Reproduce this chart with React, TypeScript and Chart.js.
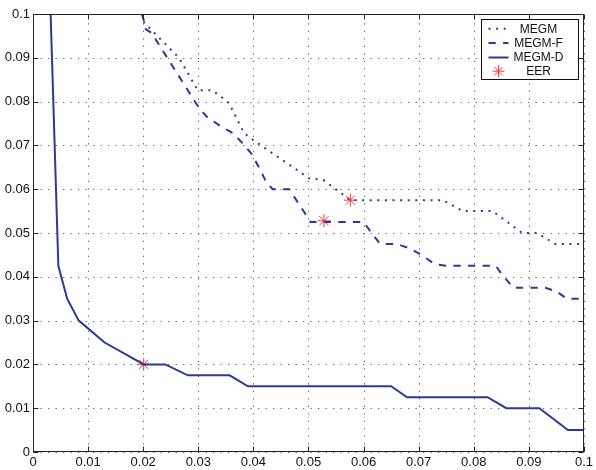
import React, { useEffect, useRef } from "react";
import { Chart, registerables } from "chart.js";

Chart.register(...registerables);

const megmX = [0.0198, 0.0202, 0.0246, 0.0265, 0.0299, 0.0325, 0.0348, 0.0356, 0.0383, 0.0401, 0.0501, 0.0527, 0.0576, 0.0744, 0.078, 0.0834, 0.0888, 0.0915, 0.0948, 0.1];
const megmY = [0.1, 0.098, 0.0924, 0.09, 0.0826, 0.0826, 0.0805, 0.0796, 0.0728, 0.0711, 0.0625, 0.0621, 0.0575, 0.0575, 0.055, 0.055, 0.05, 0.05, 0.0475, 0.0475];

const megmFX = [0.0198, 0.0205, 0.0215, 0.03, 0.0315, 0.0339, 0.0363, 0.0378, 0.0396, 0.0411, 0.0423, 0.0435, 0.0465, 0.0504, 0.06, 0.0615, 0.063, 0.066, 0.0684, 0.0705, 0.0729, 0.0749, 0.084, 0.0852, 0.0872, 0.093, 0.0951, 0.0969, 0.1];
const megmFY = [0.1, 0.0965, 0.0957, 0.0788, 0.0766, 0.0745, 0.0728, 0.0708, 0.0682, 0.0648, 0.0617, 0.06, 0.06, 0.0525, 0.0525, 0.0499, 0.0475, 0.0475, 0.0465, 0.045, 0.0429, 0.0425, 0.0425, 0.0404, 0.0375, 0.0375, 0.0366, 0.035, 0.035];

const megmDX = [0.0032, 0.0046, 0.0062, 0.0083, 0.013, 0.0201, 0.024, 0.0281, 0.0357, 0.039, 0.065, 0.0679, 0.0825, 0.0859, 0.0919, 0.0971, 0.1];
const megmDY = [0.1, 0.0425, 0.035, 0.03, 0.025, 0.02, 0.02, 0.0175, 0.0175, 0.015, 0.015, 0.0125, 0.0125, 0.01, 0.01, 0.005, 0.005];

const eerX = [0.0201, 0.0528, 0.0576];
const eerY = [0.02, 0.0528, 0.0575];

const seriesNames = ["MEGM", "MEGM-F", "MEGM-D", "EER"];
const axisMin = 0;
const axisMax = 0.1;
const axisStep = 0.01;

const BLUE = "#2c3a97";
const RED = "#ff3838";
const FONT = "'Liberation Sans', Arial, Helvetica, sans-serif";
const DOT_DASH = [2, 5.6];
const DASH_DASH = [7.3, 7.3];

const toPts = (xs: number[], ys: number[]) => xs.map((x, i) => ({ x, y: ys[i] }));

function drawAsterisk(ctx: CanvasRenderingContext2D, x: number, y: number, r: number) {
  ctx.save();
  ctx.strokeStyle = RED;
  ctx.lineWidth = 1;
  for (let k = 0; k < 4; k++) {
    const a = (k * Math.PI) / 4;
    ctx.beginPath();
    ctx.moveTo(x - r * Math.cos(a), y - r * Math.sin(a));
    ctx.lineTo(x + r * Math.cos(a), y + r * Math.sin(a));
    ctx.stroke();
  }
  ctx.restore();
}

const framePlugin = {
  id: "frame",
  beforeDatasetsDraw(chart: any) {
    const { ctx, chartArea: a, scales } = chart;
    ctx.save();
    ctx.strokeStyle = "rgba(0,0,0,0.6)";
    ctx.lineWidth = 1;
    ctx.setLineDash([1.3, 6.2]);
    scales.x.ticks.forEach((t: any) => {
      const px = Math.round(scales.x.getPixelForValue(t.value)) + 0.5;
      ctx.beginPath();
      ctx.moveTo(px, a.bottom);
      ctx.lineTo(px, a.top);
      ctx.stroke();
    });
    scales.y.ticks.forEach((t: any) => {
      const py = Math.round(scales.y.getPixelForValue(t.value)) + 0.5;
      ctx.beginPath();
      ctx.moveTo(a.left, py);
      ctx.lineTo(a.right, py);
      ctx.stroke();
    });
    ctx.restore();
  },
  afterDraw(chart: any) {
    const { ctx, chartArea: a, scales } = chart;
    ctx.save();
    ctx.strokeStyle = "#222";
    ctx.lineWidth = 1;
    ctx.setLineDash([]);
    const L = Math.round(a.left) + 0.5;
    const R = Math.round(a.right) - 0.5;
    const T = Math.round(a.top) + 0.5;
    const B = Math.round(a.bottom) - 0.5;
    ctx.strokeRect(L, T, R - L, B - T);
    const tl = 5;
    scales.x.ticks.forEach((t: any) => {
      const px = Math.round(scales.x.getPixelForValue(t.value)) + 0.5;
      ctx.beginPath();
      ctx.moveTo(px, B);
      ctx.lineTo(px, B - tl);
      ctx.moveTo(px, T);
      ctx.lineTo(px, T + tl);
      ctx.stroke();
    });
    scales.y.ticks.forEach((t: any) => {
      const py = Math.round(scales.y.getPixelForValue(t.value)) + 0.5;
      ctx.beginPath();
      ctx.moveTo(L, py);
      ctx.lineTo(L + tl, py);
      ctx.moveTo(R, py);
      ctx.lineTo(R - tl, py);
      ctx.stroke();
    });

    // legend
    const w = 97;
    const h = 60;
    const bx = Math.round(a.right) - 6 - w + 0.5;
    const by = Math.round(a.top) + 5 + 0.5;
    ctx.fillStyle = "#fff";
    ctx.fillRect(bx, by, w, h);
    ctx.strokeStyle = "#111";
    ctx.strokeRect(bx, by, w, h);
    const rows = [9.3, 23.5, 38, 51.7];
    const styles = [DOT_DASH, DASH_DASH, []];
    ctx.font = `12px ${FONT}`;
    ctx.textAlign = "center";
    ctx.textBaseline = "middle";
    rows.forEach((ry, i) => {
      const y = by + ry;
      if (i < 3) {
        ctx.strokeStyle = BLUE;
        ctx.lineWidth = 2;
        ctx.setLineDash(styles[i] as number[]);
        ctx.beginPath();
        ctx.moveTo(bx + 7, y);
        ctx.lineTo(bx + 27, y);
        ctx.stroke();
        ctx.setLineDash([]);
      } else {
        drawAsterisk(ctx, bx + 17, y, 6);
      }
      ctx.fillStyle = "#111";
      ctx.fillText(seriesNames[i], bx + 57, y + 0.5);
    });
    ctx.restore();
  },
};

export default function App() {
  const ref = useRef<HTMLCanvasElement | null>(null);
  useEffect(() => {
    document.body.style.margin = "0";
    if (!ref.current) return;
    const lineDs = (label: string, xs: number[], ys: number[], dash: number[]) => ({
      label,
      data: toPts(xs, ys),
      showLine: true,
      borderColor: BLUE,
      backgroundColor: BLUE,
      borderWidth: 2,
      borderDash: dash,
      pointRadius: 0,
      pointHoverRadius: 0,
      tension: 0,
    });
    const chart = new Chart(ref.current, {
      type: "scatter",
      data: {
        datasets: [
          lineDs(seriesNames[0], megmX, megmY, DOT_DASH),
          lineDs(seriesNames[1], megmFX, megmFY, DASH_DASH),
          lineDs(seriesNames[2], megmDX, megmDY, []),
          {
            label: seriesNames[3],
            data: toPts(eerX, eerY),
            showLine: false,
            pointStyle: "star",
            pointRadius: 6.5,
            borderColor: RED,
            backgroundColor: RED,
            borderWidth: 1,
          } as any,
        ],
      },
      options: {
        animation: false,
        responsive: false,
        devicePixelRatio: 1,
        layout: { padding: { top: 14, right: 7, left: 0, bottom: 0 }, autoPadding: false } as any,
        plugins: { legend: { display: false }, tooltip: { enabled: false } },
        scales: {
          x: {
            type: "linear",
            min: axisMin,
            max: axisMax,
            grid: { display: false, drawTicks: false },
            border: { display: false },
            ticks: {
              stepSize: axisStep,
              padding: 3,
              color: "#111",
              font: { family: FONT, size: 13 },
              maxRotation: 0,
              autoSkip: false,
              callback: (v: any) => String(Number(Number(v).toFixed(2))),
            },
            afterFit: (s: any) => {
              s.height = 18;
            },
          },
          y: {
            type: "linear",
            min: axisMin,
            max: axisMax,
            grid: { display: false, drawTicks: false },
            border: { display: false },
            ticks: {
              stepSize: axisStep,
              padding: 3,
              color: "#111",
              font: { family: FONT, size: 13 },
              autoSkip: false,
              callback: (v: any) => String(Number(Number(v).toFixed(2))),
            },
            afterFit: (s: any) => {
              s.width = 33;
            },
          },
        },
      },
      plugins: [framePlugin],
    });
    return () => chart.destroy();
  }, []);
  return (
    <div style={{ width: 596, height: 470 }}>
      <canvas ref={ref} width={596} height={470} style={{ display: "block" }} />
    </div>
  );
}
